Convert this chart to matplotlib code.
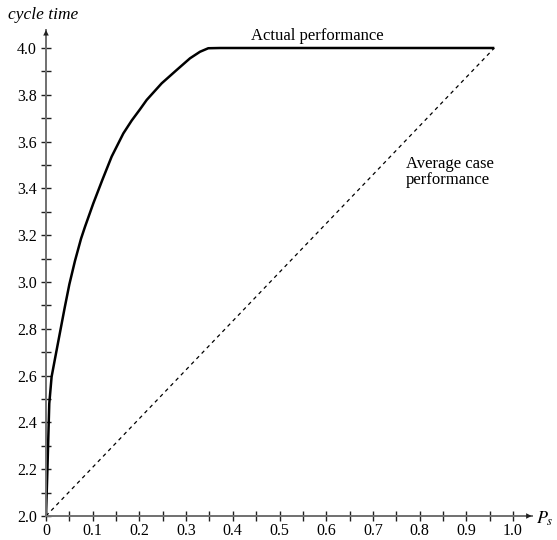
import matplotlib
matplotlib.use("Agg")
import matplotlib.pyplot as plt
from matplotlib.ticker import MultipleLocator

plt.rcParams['font.family'] = ['Liberation Serif', 'DejaVu Serif']
plt.rcParams['mathtext.fontset'] = 'stix'

# Data
actual_x = [0.0, 0.003, 0.005, 0.007, 0.012, 0.02, 0.03, 0.04,
            0.05, 0.062, 0.075, 0.0835, 0.1013, 0.1206, 0.1406, 0.1656,
            0.1835, 0.2013, 0.2156, 0.2477, 0.2798, 0.3084, 0.3298, 0.3475,
            0.3726, 0.96]
actual_y = [2.0, 2.197, 2.339, 2.48, 2.595, 2.68, 2.785, 2.89,
            2.99, 3.09, 3.185, 3.236, 3.336, 3.436, 3.536, 3.635,
            3.69, 3.738, 3.778, 3.849, 3.906, 3.956, 3.984, 3.999,
            4.0, 4.0]
avg_x = [0.0, 0.96]
avg_y = [2.0, 4.0]
x_ticks = [0.0, 0.1, 0.2, 0.3, 0.4, 0.5, 0.6, 0.7, 0.8, 0.9, 1.0]
x_tick_labels = ['0', '0.1', '0.2', '0.3', '0.4', '0.5', '0.6', '0.7', '0.8', '0.9', '1.0']
y_ticks = [2.0, 2.2, 2.4, 2.6, 2.8, 3.0, 3.2, 3.4, 3.6, 3.8, 4.0]
y_tick_labels = ['2.0', '2.2', '2.4', '2.6', '2.8', '3.0', '3.2', '3.4', '3.6', '3.8', '4.0']

W, H = 557, 540
fig = plt.figure(figsize=(W/100, H/100), dpi=100)
x0px, x1px = 46, 513
y0px, y4px = 516, 48
xmax, ymax = 1.04, 4.077
sx = (x1px - x0px) / 1.0
sy = (y0px - y4px) / 2.0
ax = fig.add_axes([x0px/W, (H - y0px)/H, xmax*sx/W, (ymax-2.0)*sy/H])
ax.set_xlim(0, xmax)
ax.set_ylim(2.0, ymax)

ax.plot(actual_x, actual_y, color='black', lw=1.8, solid_joinstyle='round',
        solid_capstyle='butt')
ax.plot(avg_x, avg_y, color='black', lw=0.9, linestyle=(0, (3, 3)))

for s in ['top', 'right']:
    ax.spines[s].set_visible(False)
for s in ['left', 'bottom']:
    ax.spines[s].set_color('#707070')
    ax.spines[s].set_linewidth(1.4)

ax.set_xticks(x_ticks)
ax.set_xticklabels(x_tick_labels)
ax.set_yticks(y_ticks)
ax.set_yticklabels(y_tick_labels)
ax.xaxis.set_minor_locator(MultipleLocator(0.05))
ax.yaxis.set_minor_locator(MultipleLocator(0.1))
ax.tick_params(which='both', direction='inout', length=7.5, width=1.0,
               color='#202020', labelsize=11.5, pad=3)
ax.tick_params(axis='x', which='both', pad=1.5)

# arrow heads
ax.annotate('', xy=(xmax, 2.0), xytext=(xmax-0.03, 2.0),
            arrowprops=dict(arrowstyle='-|>', color='#202020', lw=0,
                            mutation_scale=10, shrinkA=0, shrinkB=0),
            annotation_clip=False)
ax.annotate('', xy=(0, ymax), xytext=(0, ymax-0.06),
            arrowprops=dict(arrowstyle='-|>', color='#202020', lw=0,
                            mutation_scale=10, shrinkA=0, shrinkB=0),
            annotation_clip=False)

fig.text(8/W, 1 - 15/H, 'cycle time', fontsize=12.5, style='italic',
         ha='left', va='center')
fig.text(536/W, 1 - 519/H, r'$P_s$', fontsize=13, ha='left', va='center')

ax.text(0.58, 4.05, 'Actual performance', fontsize=12, ha='center', va='center')
ax.text(0.77, 3.47, 'Average case\nperformance', fontsize=12, ha='left',
        va='center', linespacing=1.0)

fig.savefig('out.png', dpi=100)
